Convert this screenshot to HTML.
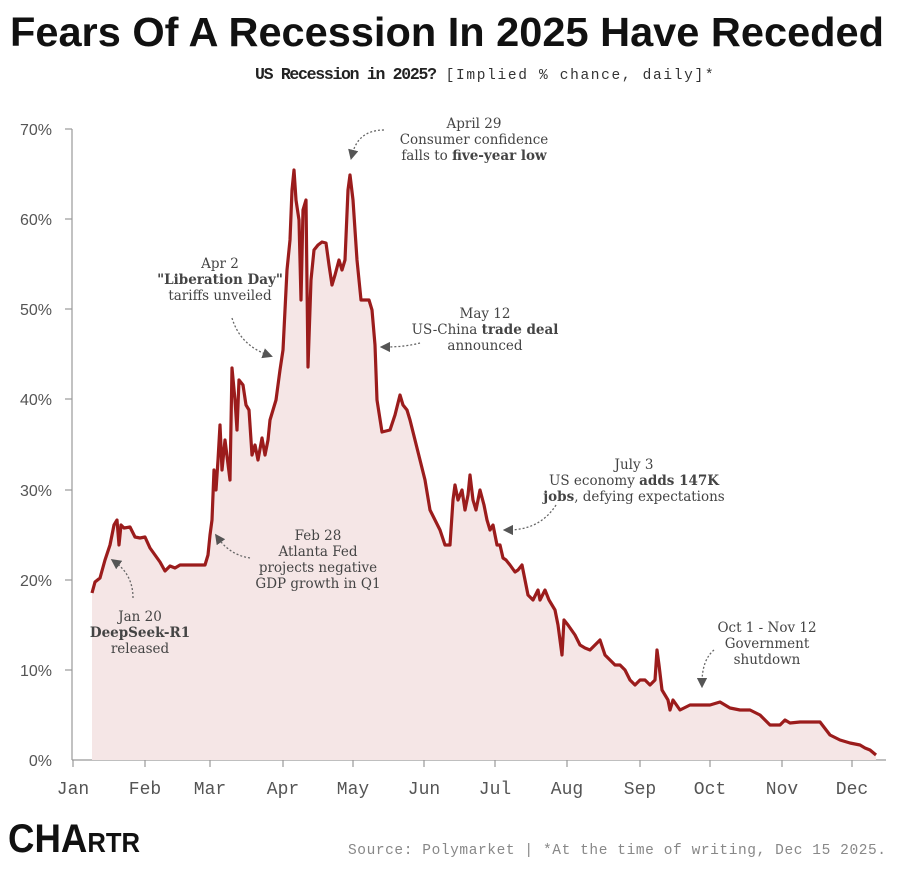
<!DOCTYPE html>
<html><head><meta charset="utf-8"><style>
body{margin:0;background:#fff;width:910px;height:871px;overflow:hidden}
</style></head><body>
<svg width="910" height="871" xmlns="http://www.w3.org/2000/svg">
<defs><marker id="ah" markerWidth="8" markerHeight="8" refX="4" refY="4" orient="auto"><path d="M0,0 L8,4 L0,8 Z" fill="#555"/></marker></defs>
<text x="447" y="46" text-anchor="middle" font-family="'Liberation Sans Narrow','Liberation Sans',sans-serif" font-weight="bold" font-size="41" textLength="874" lengthAdjust="spacingAndGlyphs" fill="#111">Fears Of A Recession In 2025 Have Receded</text>
<text x="255" y="79" font-family="'Liberation Mono',monospace" font-size="16.5" fill="#222"><tspan font-weight="bold" textLength="182">US Recession in 2025?</tspan> <tspan font-size="14.5" fill="#333" textLength="268">[Implied % chance, daily]*</tspan></text>
<g font-family="'Liberation Sans',sans-serif" font-size="16" fill="#555" text-anchor="end">
<text x="52" y="135">70%</text><text x="52" y="225">60%</text><text x="52" y="315">50%</text><text x="52" y="405">40%</text><text x="52" y="496">30%</text><text x="52" y="586">20%</text><text x="52" y="676">10%</text><text x="52" y="766">0%</text>
</g>
<g stroke="#999" stroke-width="1.2">
<line x1="72" y1="129" x2="72" y2="760"/>
<line x1="65" y1="129" x2="72" y2="129"/><line x1="65" y1="219" x2="72" y2="219"/><line x1="65" y1="309" x2="72" y2="309"/><line x1="65" y1="399" x2="72" y2="399"/><line x1="65" y1="490" x2="72" y2="490"/><line x1="65" y1="580" x2="72" y2="580"/><line x1="65" y1="670" x2="72" y2="670"/>
<line x1="72" y1="760" x2="886" y2="760"/>
<line x1="73" y1="760" x2="73" y2="767"/><line x1="145" y1="760" x2="145" y2="767"/><line x1="210" y1="760" x2="210" y2="767"/><line x1="283" y1="760" x2="283" y2="767"/><line x1="353" y1="760" x2="353" y2="767"/><line x1="424" y1="760" x2="424" y2="767"/><line x1="495" y1="760" x2="495" y2="767"/><line x1="567" y1="760" x2="567" y2="767"/><line x1="640" y1="760" x2="640" y2="767"/><line x1="710" y1="760" x2="710" y2="767"/><line x1="782" y1="760" x2="782" y2="767"/><line x1="852" y1="760" x2="852" y2="767"/>
</g>
<g font-family="'Liberation Mono',monospace" font-size="18" fill="#555" text-anchor="middle">
<text x="73" y="794">Jan</text><text x="145" y="794">Feb</text><text x="210" y="794">Mar</text><text x="283" y="794">Apr</text><text x="353" y="794">May</text><text x="424" y="794">Jun</text><text x="495" y="794">Jul</text><text x="567" y="794">Aug</text><text x="640" y="794">Sep</text><text x="710" y="794">Oct</text><text x="782" y="794">Nov</text><text x="852" y="794">Dec</text>
</g>
<path fill="#f5e6e6" stroke="none" d="M92,760 L92,593 L95,582 L100,578 L105,560 L110,545 L114,525 L117,520 L119,545 L121,525 L124,528 L130,527 L135,537 L140,538 L145,537 L150,548 L155,555 L160,562 L165,571 L170,566 L175,568 L180,565 L190,565 L200,565 L205,565 L208,555 L210,535 L212,520 L214,470 L216,490 L218,460 L220,425 L222,470 L225,440 L230,480 L232,368 L235,400 L237,430 L239,380 L243,385 L246,405 L249,410 L252,455 L255,445 L258,460 L262,438 L265,455 L268,440 L270,420 L273,410 L276,400 L280,370 L283,350 L287,270 L290,240 L292,190 L294,170 L296,200 L299,220 L301,300 L303,210 L306,200 L308,367 L311,280 L314,250 L318,245 L322,242 L326,243 L329,265 L332,285 L335,275 L339,260 L342,270 L345,260 L348,190 L350,175 L353,200 L357,260 L361,300 L365,300 L369,300 L372,310 L375,345 L377,400 L382,432 L390,430 L395,415 L400,395 L403,405 L407,410 L410,420 L415,440 L420,460 L425,480 L430,510 L435,520 L440,530 L445,545 L450,545 L453,500 L455,485 L458,500 L462,490 L465,510 L468,495 L470,475 L473,500 L476,510 L480,490 L484,505 L487,520 L490,530 L493,525 L497,545 L500,545 L503,558 L506,560 L510,565 L515,572 L518,570 L522,565 L525,580 L528,595 L533,600 L538,590 L540,600 L545,590 L549,600 L555,610 L558,625 L560,640 L562,655 L564,620 L568,625 L575,635 L580,645 L585,648 L590,650 L595,645 L600,640 L605,655 L610,660 L615,665 L620,665 L625,670 L630,680 L635,685 L640,680 L645,680 L650,685 L655,680 L657,650 L659,665 L662,690 L668,700 L670,710 L673,700 L680,710 L690,705 L700,705 L710,705 L720,702 L725,705 L730,708 L740,710 L750,710 L760,715 L770,725 L780,725 L785,720 L790,723 L800,722 L810,722 L820,722 L830,735 L840,740 L850,743 L860,745 L865,748 L870,750 L876,755 L876,760 Z"/>
<polyline fill="none" stroke="#9b1c1c" stroke-width="3.2" stroke-linejoin="round" points="92,593 95,582 100,578 105,560 110,545 114,525 117,520 119,545 121,525 124,528 130,527 135,537 140,538 145,537 150,548 155,555 160,562 165,571 170,566 175,568 180,565 190,565 200,565 205,565 208,555 210,535 212,520 214,470 216,490 218,460 220,425 222,470 225,440 230,480 232,368 235,400 237,430 239,380 243,385 246,405 249,410 252,455 255,445 258,460 262,438 265,455 268,440 270,420 273,410 276,400 280,370 283,350 287,270 290,240 292,190 294,170 296,200 299,220 301,300 303,210 306,200 308,367 311,280 314,250 318,245 322,242 326,243 329,265 332,285 335,275 339,260 342,270 345,260 348,190 350,175 353,200 357,260 361,300 365,300 369,300 372,310 375,345 377,400 382,432 390,430 395,415 400,395 403,405 407,410 410,420 415,440 420,460 425,480 430,510 435,520 440,530 445,545 450,545 453,500 455,485 458,500 462,490 465,510 468,495 470,475 473,500 476,510 480,490 484,505 487,520 490,530 493,525 497,545 500,545 503,558 506,560 510,565 515,572 518,570 522,565 525,580 528,595 533,600 538,590 540,600 545,590 549,600 555,610 558,625 560,640 562,655 564,620 568,625 575,635 580,645 585,648 590,650 595,645 600,640 605,655 610,660 615,665 620,665 625,670 630,680 635,685 640,680 645,680 650,685 655,680 657,650 659,665 662,690 668,700 670,710 673,700 680,710 690,705 700,705 710,705 720,702 725,705 730,708 740,710 750,710 760,715 770,725 780,725 785,720 790,723 800,722 810,722 820,722 830,735 840,740 850,743 860,745 865,748 870,750 876,755"/>
<g font-family="'DejaVu Serif','Liberation Serif',serif" font-size="13.5" fill="#444" text-anchor="middle">
<text x="474" y="128">April 29</text><text x="474" y="144">Consumer confidence</text><text x="474" y="160">falls to <tspan font-weight="bold">five-year low</tspan></text>
<text x="220" y="268">Apr 2</text><text x="220" y="284" font-weight="bold">"Liberation Day"</text><text x="220" y="300">tariffs unveiled</text>
<text x="485" y="318">May 12</text><text x="485" y="334">US-China <tspan font-weight="bold">trade deal</tspan></text><text x="485" y="350">announced</text>
<text x="634" y="469">July 3</text><text x="634" y="485">US economy <tspan font-weight="bold">adds 147K</tspan></text><text x="634" y="501"><tspan font-weight="bold">jobs</tspan>, defying expectations</text>
<text x="318" y="540">Feb 28</text><text x="318" y="556">Atlanta Fed</text><text x="318" y="572">projects negative</text><text x="318" y="588">GDP growth in Q1</text>
<text x="140" y="621">Jan 20</text><text x="140" y="637" font-weight="bold">DeepSeek-R1</text><text x="140" y="653">released</text>
<text x="767" y="632">Oct 1 - Nov 12</text><text x="767" y="648">Government</text><text x="767" y="664">shutdown</text>
</g>
<g fill="none" stroke="#666" stroke-width="1.3" stroke-dasharray="2,2" marker-end="url(#ah)">
<path d="M384,130 Q358,130 352,155"/>
<path d="M232,318 Q240,345 268,355"/>
<path d="M420,343 Q405,347 385,347"/>
<path d="M556,505 Q540,530 508,530"/>
<path d="M250,558 Q230,555 218,538"/>
<path d="M133,598 Q133,575 115,562"/>
<path d="M714,650 Q702,660 702,683"/>
</g>
<text x="8" y="852" font-family="'Liberation Sans Narrow','Liberation Sans',sans-serif" font-weight="bold" font-size="40" fill="#111" textLength="132" lengthAdjust="spacingAndGlyphs">CHA<tspan font-size="28">RTR</tspan></text>
<text x="886" y="854" text-anchor="end" font-family="'Liberation Mono',monospace" font-size="14.5" fill="#888" textLength="538">Source: Polymarket | *At the time of writing, Dec 15 2025.</text>
</svg>
</body></html>
